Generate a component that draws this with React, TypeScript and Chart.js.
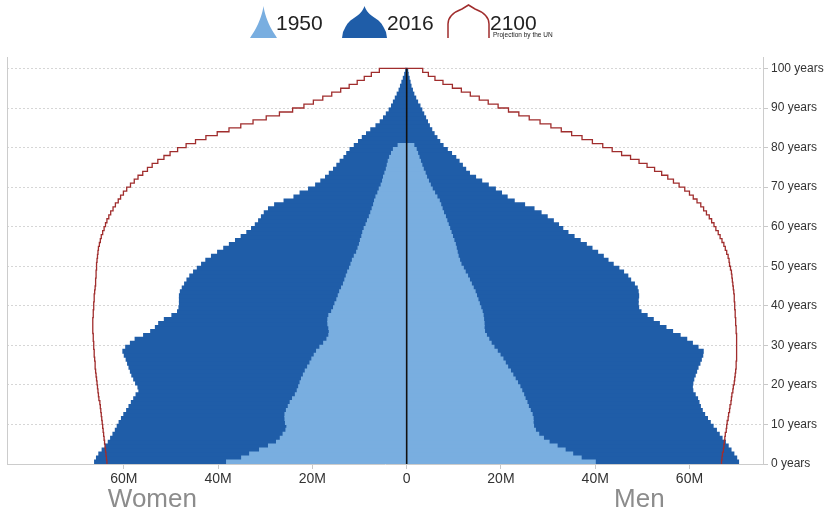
import React, { useEffect, useRef } from 'react';
import { Chart, registerables } from 'chart.js';

Chart.register(...registerables);

// ---- Data (millions of people, by single year of age) ----
// 2016, ages 0..99
const women2016 = [
  66.2, 65.8, 65.3, 64.6, 63.9, 63.3, 62.8, 62.3, 61.8, 61.4,
  61.0, 60.5, 60.0, 59.4, 58.9, 58.4, 57.9, 57.4, 56.8, 57.0,
  57.5, 57.9, 58.3, 58.6, 58.9, 59.2, 59.5, 59.9, 60.2, 59.6,
  58.6, 57.6, 55.8, 54.3, 53.3, 52.6, 51.4, 49.8, 48.6, 48.3,
  48.2, 48.2, 48.2, 48.0, 47.6, 47.1, 46.6, 46.0, 45.2, 44.4,
  43.5, 42.6, 41.4, 40.1, 38.8, 37.6, 36.3, 35.1, 33.9, 32.9,
  32.1, 31.4, 30.8, 30.2, 29.3, 28.0, 26.0, 23.9, 22.6, 20.8,
  19.3, 18.2, 17.2, 16.4, 15.5, 14.8, 14.1, 13.3, 12.7, 12.0,
  11.1, 10.2, 9.4, 8.5, 7.6, 6.5, 5.6, 4.9, 4.3, 3.7,
  3.2, 2.8, 2.4, 2.0, 1.6, 1.3, 1.0, 0.7, 0.4, 0.2,
];
const men2016 = [
  70.4, 70.0, 69.4, 68.8, 68.2, 67.6, 66.9, 66.3, 65.7, 65.0,
  64.4, 63.8, 63.2, 62.7, 62.3, 62.0, 61.7, 61.2, 60.7, 60.6,
  60.7, 60.9, 61.2, 61.5, 61.8, 62.2, 62.5, 62.8, 62.9, 61.8,
  60.6, 59.4, 58.0, 56.4, 55.0, 53.6, 52.3, 51.0, 49.7, 49.2,
  49.1, 49.1, 49.2, 49.1, 48.9, 48.3, 47.5, 46.9, 46.0, 45.0,
  43.8, 42.7, 41.7, 40.5, 39.3, 38.1, 36.8, 35.5, 34.2, 33.1,
  32.2, 31.1, 29.8, 28.5, 27.0, 25.0, 22.8, 21.3, 20.1, 18.8,
  17.3, 15.9, 14.6, 13.3, 12.5, 11.8, 11.1, 10.4, 9.5, 8.6,
  7.7, 7.0, 6.4, 5.8, 5.3, 4.8, 4.4, 4.0, 3.6, 3.2,
  2.8, 2.3, 1.9, 1.5, 1.2, 0.9, 0.7, 0.5, 0.3, 0.2,
];
// 1950, ages 0..80 (80 = 80+)
const women1950 = [
  38.2, 35.0, 33.3, 31.2, 29.3, 27.6, 26.8, 26.2, 25.6, 25.4,
  25.7, 25.8, 25.8, 25.5, 25.1, 24.7, 24.2, 23.6, 23.2, 22.9,
  22.6, 22.3, 21.9, 21.5, 21.0, 20.5, 20.1, 19.6, 19.1, 18.4,
  17.6, 16.9, 16.5, 16.4, 16.5, 16.7, 16.7, 16.5, 15.9, 15.5,
  15.2, 14.8, 14.5, 14.2, 13.8, 13.4, 13.1, 12.8, 12.5, 12.1,
  11.8, 11.5, 11.1, 10.6, 10.3, 10.0, 9.8, 9.5, 9.3, 9.0,
  8.6, 8.3, 7.9, 7.6, 7.3, 7.0, 6.8, 6.5, 6.1, 5.8,
  5.4, 5.1, 4.9, 4.6, 4.3, 4.1, 3.9, 3.6, 3.2, 2.8,
  1.8,
];
const men1950 = [
  40.0, 37.0, 35.2, 33.6, 31.9, 30.2, 29.0, 28.0, 27.3, 26.9,
  26.8, 26.8, 26.6, 26.2, 25.8, 25.5, 25.1, 24.8, 24.4, 24.0,
  23.5, 23.0, 22.5, 22.0, 21.4, 20.9, 20.4, 19.8, 19.2, 18.5,
  17.9, 17.4, 16.9, 16.5, 16.4, 16.4, 16.3, 16.2, 16.0, 15.7,
  15.4, 15.1, 14.8, 14.5, 14.1, 13.7, 13.3, 12.9, 12.4, 12.0,
  11.5, 11.2, 10.9, 10.7, 10.5, 10.3, 10.0, 9.7, 9.4, 9.1,
  8.8, 8.5, 8.2, 7.8, 7.5, 7.2, 6.9, 6.4, 5.9, 5.4,
  5.0, 4.6, 4.2, 3.9, 3.5, 3.2, 2.9, 2.6, 2.3, 2.0,
  1.5,
];
// 2100 projection (UN), ages 0..99
const women2100 = [
  63.6, 63.7, 63.8, 63.9, 64.0, 64.1, 64.2, 64.3, 64.4, 64.5,
  64.6, 64.7, 64.8, 64.9, 65.0, 65.1, 65.3, 65.4, 65.5, 65.6,
  65.7, 65.8, 65.9, 66.0, 66.1, 66.1, 66.2, 66.3, 66.3, 66.4,
  66.4, 66.5, 66.5, 66.6, 66.6, 66.6, 66.6, 66.5, 66.5, 66.4,
  66.4, 66.3, 66.3, 66.2, 66.1, 66.0, 66.0, 65.9, 65.9, 65.8,
  65.8, 65.7, 65.6, 65.5, 65.4, 65.2, 65.0, 64.8, 64.5, 64.2,
  63.9, 63.6, 63.2, 62.8, 62.3, 61.8, 61.2, 60.7, 60.1, 59.4,
  58.6, 57.8, 57.0, 56.0, 55.0, 54.0, 52.8, 51.5, 50.2, 48.6,
  46.8, 44.8, 42.6, 40.2, 37.7, 35.2, 32.6, 29.8, 27.0, 24.2,
  21.8, 19.8, 17.8, 15.9, 14.0, 12.2, 10.5, 9.0, 7.5, 5.8,
];
const men2100 = [
  66.8, 66.9, 67.0, 67.2, 67.3, 67.4, 67.5, 67.6, 67.8, 67.9,
  68.0, 68.2, 68.3, 68.5, 68.6, 68.8, 68.9, 69.0, 69.2, 69.3,
  69.5, 69.6, 69.7, 69.8, 69.9, 69.9, 70.0, 70.0, 70.0, 70.0,
  70.0, 70.0, 70.0, 69.9, 69.9, 69.8, 69.8, 69.7, 69.7, 69.6,
  69.6, 69.5, 69.5, 69.4, 69.3, 69.2, 69.1, 69.0, 68.9, 68.7,
  68.5, 68.4, 68.2, 67.9, 67.6, 67.3, 66.9, 66.5, 66.1, 65.6,
  65.2, 64.7, 64.2, 63.6, 63.0, 62.4, 61.6, 60.8, 60.0, 59.0,
  57.8, 56.6, 55.4, 54.1, 52.6, 51.0, 49.3, 47.5, 45.6, 43.6,
  41.6, 39.4, 37.2, 35.0, 32.8, 30.6, 28.3, 26.0, 23.8, 21.6,
  19.4, 17.3, 15.4, 13.5, 11.6, 9.7, 7.7, 6.0, 4.6, 3.4,
];

const xTickValues = [-60, -40, -20, 0, 20, 40, 60];
const yTickValues = [0, 10, 20, 30, 40, 50, 60, 70, 80, 90, 100];
const TOP_AGE = 100;

// ---- Styling ----
const FONT = '"Liberation Sans", Helvetica, Arial, sans-serif';
const C_1950 = '#79aee0';
const C_2016 = '#1f5da8';
const C_2100 = '#a02d2d';

const barPoints = (vals: number[], sign: number) =>
  vals.map((v, age) => ({ x: sign * v, y: age + 0.5 }));
const stepPoints = (vals: number[], sign: number) =>
  vals.map((v, age) => ({ x: sign * v, y: age })).concat([{ x: 0, y: vals.length }]);

const sideLabels = {
  id: 'sideLabels',
  afterDraw(chart: any) {
    const { ctx } = chart;
    const x = chart.scales.x;
    ctx.save();
    ctx.font = '26px ' + FONT;
    ctx.fillStyle = '#8c8c8c';
    ctx.textBaseline = 'alphabetic';
    ctx.textAlign = 'right';
    ctx.fillText('Women', x.getPixelForValue(-44.5), 507);
    ctx.textAlign = 'left';
    ctx.fillText('Men', x.getPixelForValue(44), 507);
    ctx.restore();
  },
};

function PyramidChart() {
  const ref = useRef<HTMLCanvasElement | null>(null);
  useEffect(() => {
    if (!ref.current) return;
    const barCommon = { type: 'bar' as const, grouped: false, barPercentage: 1, categoryPercentage: 1, borderWidth: 0, inflateAmount: 0.6 };
    const lineCommon = { type: 'line' as const, pointRadius: 0, borderWidth: 1.3, borderColor: C_2100, fill: false, stepped: 'after' as const, tension: 0 };
    const chart = new Chart(ref.current, {
      type: 'bar',
      data: {
        datasets: [
          { ...lineCommon, stepped: false, label: 'axis', data: [{ x: 0, y: 0 }, { x: 0, y: TOP_AGE }], borderColor: '#111111', borderWidth: 1.6, order: 0 } as any,
          { ...lineCommon, label: '2100 women', data: stepPoints(women2100, -1), order: 1 } as any,
          { ...lineCommon, label: '2100 men', data: stepPoints(men2100, 1), order: 1 } as any,
          { ...barCommon, label: '1950 women', data: barPoints(women1950, -1), backgroundColor: C_1950, order: 2 } as any,
          { ...barCommon, label: '1950 men', data: barPoints(men1950, 1), backgroundColor: C_1950, order: 2 } as any,
          { ...barCommon, label: '2016 women', data: barPoints(women2016, -1), backgroundColor: C_2016, order: 3 } as any,
          { ...barCommon, label: '2016 men', data: barPoints(men2016, 1), backgroundColor: C_2016, order: 3 } as any,
        ],
      },
      options: {
        indexAxis: 'y',
        responsive: false,
        animation: false,
        events: [],
        layout: { padding: { top: 57, left: 7, right: 0, bottom: 0 } },
        plugins: { legend: { display: false }, tooltip: { enabled: false }, title: { display: false } },
        scales: {
          x: {
            type: 'linear',
            position: 'bottom',
            offset: false,
            min: -84.8,
            max: 75.6,
            afterBuildTicks: (s: any) => { s.ticks = xTickValues.map((v) => ({ value: v })); },
            afterFit: (s: any) => { s.height = 47; },
            ticks: {
              callback: (v: any) => (v === 0 ? '0' : Math.abs(v) + 'M'),
              color: '#333333',
              font: { family: FONT, size: 14 },
              padding: 2,
              maxRotation: 0,
              autoSkip: false,
            },
            grid: { offset: false, drawOnChartArea: false, drawTicks: true, tickLength: 5, color: '#c8c8c8' },
            border: { display: true, color: '#cccccc', width: 1 },
          },
          y: {
            type: 'linear',
            position: 'right',
            offset: false,
            min: 0,
            max: 102.9,
            afterBuildTicks: (s: any) => { s.ticks = yTickValues.map((v) => ({ value: v })); },
            afterFit: (s: any) => { s.width = 66; },
            ticks: {
              callback: (v: any) => v + ' years',
              color: '#333333',
              font: { family: FONT, size: 12 },
              padding: 3,
              autoSkip: false,
            },
            grid: { offset: false, color: '#d6d6d6', lineWidth: 1, tickLength: 5, tickColor: '#c8c8c8', tickBorderDash: [] },
            border: { display: true, color: '#cccccc', width: 1, dash: [2, 2] },
          },
          yLeft: {
            type: 'linear',
            position: 'left',
            offset: false,
            min: 0,
            max: 102.9,
            ticks: { display: false },
            grid: { display: false, drawTicks: false, offset: false },
            afterFit: (s: any) => { s.width = 0; },
            border: { display: true, color: '#cccccc', width: 1 },
          },
        },
      } as any,
      plugins: [sideLabels],
    });
    return () => chart.destroy();
  }, []);
  return <canvas ref={ref} width={829} height={511} style={{ display: 'block' }} />;
}

function Legend() {
  const text: React.CSSProperties = { position: 'absolute', fontFamily: FONT, fontSize: 21, lineHeight: '21px', color: '#222', whiteSpace: 'nowrap' };
  return (
    <div style={{ position: 'absolute', left: 0, top: 0, width: 829, height: 45, pointerEvents: 'none' }}>
      <svg style={{ position: 'absolute', left: 250, top: 6 }} width={27} height={32} viewBox="0 0 27 32">
        <path d="M13.5 0 C12.5 7, 10 15, 5 24 C3.5 27, 1.5 29, 0 32 L27 32 C25.5 29, 23.5 27, 22 24 C17 15, 14.5 7, 13.5 0 Z" fill={C_1950} />
      </svg>
      <span style={{ ...text, left: 276, top: 12 }}>1950</span>
      <svg style={{ position: 'absolute', left: 342, top: 6 }} width={45} height={32} viewBox="0 0 45 32">
        <path d="M22.5 0 C21 5, 17 9, 12 12 C7 15, 5 18, 3 22 L1 26 L0 32 L45 32 L44 26 L42 22 C40 18, 38 15, 33 12 C28 9, 24 5, 22.5 0 Z" fill={C_2016} />
      </svg>
      <span style={{ ...text, left: 387, top: 12 }}>2016</span>
      <svg style={{ position: 'absolute', left: 446, top: 4 }} width={45} height={34} viewBox="0 0 45 34">
        <path d="M2 34 L2 20 C2 12, 8 8, 16 5 L22.5 1 L29 5 C37 8, 43 12, 43 20 L43 34" fill="none" stroke={C_2100} strokeWidth={1.5} />
      </svg>
      <span style={{ ...text, left: 490, top: 12 }}>2100</span>
      <span style={{ position: 'absolute', left: 493, top: 31.5, fontFamily: FONT, fontSize: 6.5, lineHeight: '6.5px', color: '#222', whiteSpace: 'nowrap' }}>Projection by the UN</span>
    </div>
  );
}

export default function App() {
  return (
    <div style={{ position: 'fixed', left: 0, top: 0, width: 829, height: 511, background: '#ffffff' }}>
      <PyramidChart />
      <Legend />
    </div>
  );
}
